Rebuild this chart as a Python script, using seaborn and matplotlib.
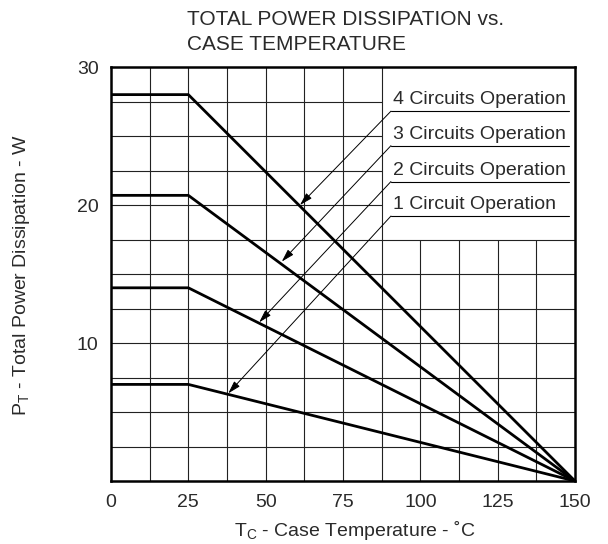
import matplotlib
matplotlib.use("Agg")
import matplotlib.pyplot as plt
import seaborn as sns
import pandas as pd
import numpy as np

# curve data
temp_points = [0, 25, 150]
series_names = ["4 Circuits Operation", "3 Circuits Operation",
                "2 Circuits Operation", "1 Circuit Operation"]
flat_power = [28.0, 20.7, 14.0, 7.0]

# label underline heights and arrow tips (data units)
label_y = [26.8, 24.3, 21.7, 19.2]
tip_x = [61.1, 55.2, 47.9, 37.9]
tip_y = [20.0, 15.9, 11.5, 6.35]

x_ticks = [0, 25, 50, 75, 100, 125, 150]
y_ticks = [10, 20, 30]

sns.set_style("white")
plt.rcParams["font.family"] = ["Liberation Sans", "DejaVu Sans"]
plt.rcParams["mathtext.fontset"] = "custom"
plt.rcParams["mathtext.rm"] = "Liberation Sans"
text_color = "#2a2a2a"

rows = []
for name, p in zip(series_names, flat_power):
    for t, v in zip(temp_points, [p, p, 0.0]):
        rows.append({"Tc": t, "PT": v, "series": name})
df = pd.DataFrame(rows)

fig, ax = plt.subplots(figsize=(6.08, 5.44), dpi=100)
fig.subplots_adjust(left=0.1826, right=0.9457, bottom=0.1158, top=0.8768)

# grid, blanked in the label box (x > 87.5, y > 17.5)
for gx in np.arange(12.5, 150, 12.5):
    ax.vlines(gx, 0, 30 if gx <= 87.5 else 17.5, color="#222222", lw=0.8, zorder=1)
for gy in np.arange(2.5, 30, 2.5):
    ax.hlines(gy, 0, 150 if gy <= 17.5 else 87.5, color="#222222", lw=0.8, zorder=1)

for name in series_names:
    sns.lineplot(data=df[df["series"] == name], x="Tc", y="PT", color="black",
                 lw=2.0, ax=ax, zorder=3, legend=False)

ax.set_xlim(0, 150)
ax.set_ylim(0, 30)
ax.set_xticks(x_ticks)
ax.set_yticks(y_ticks)
ax.tick_params(length=0, labelsize=14, colors=text_color)
ax.tick_params(axis="x", pad=9)
ax.tick_params(axis="y", pad=9)
ax.set_xlabel("")
ax.set_ylabel("")
for s in ax.spines.values():
    s.set_linewidth(1.8)
    s.set_color("black")

# labels with underlines and arrows
for name, ly, tx, ty in zip(series_names, label_y, tip_x, tip_y):
    ax.text(91.2, ly + 0.5, name, fontsize=14, color=text_color, va="baseline", zorder=4)
    ax.plot([90.5, 148.1], [ly, ly], color="black", lw=0.8, zorder=4)
    ax.annotate("", xy=(tx, ty), xytext=(90.5, ly),
                arrowprops=dict(arrowstyle="-|>,head_length=0.55,head_width=0.16",
                                mutation_scale=14, lw=0.7,
                                color="black", shrinkA=0, shrinkB=0), zorder=4)

fig.text(187 / 608, 1 - 25 / 544, "TOTAL POWER DISSIPATION vs.", fontsize=15,
         color=text_color, va="baseline", ha="left")
fig.text(187 / 608, 1 - 50 / 544, "CASE TEMPERATURE", fontsize=15,
         color=text_color, va="baseline", ha="left")
fig.text(355 / 608, 1 - 530 / 544, r"T$_\mathregular{C}$ - Case Temperature - ˚C",
         fontsize=14, color=text_color, ha="center", va="center")
fig.text(22 / 608, 1 - 275 / 544, r"P$_\mathregular{T}$ - Total Power Dissipation - W",
         fontsize=14, color=text_color, ha="center", va="center", rotation=90)

fig.savefig("out.png", dpi=100)
